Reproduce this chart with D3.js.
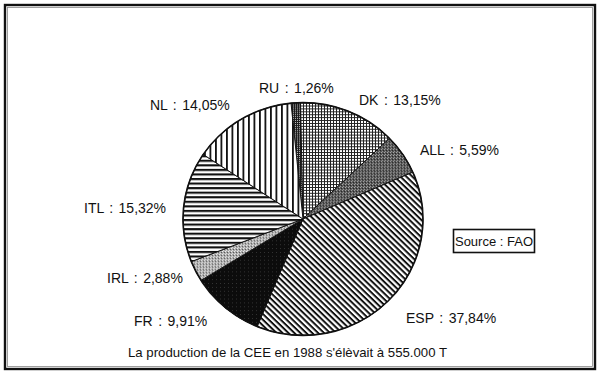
<!DOCTYPE html>
<html>
<head>
<meta charset="utf-8">
<script src="https://cdn.jsdelivr.net/npm/d3@7"></script>
<style>
  body { margin: 0; background: #fff; }
  svg text { font-family: "Liberation Sans", Arial, sans-serif; fill: #111; }
</style>
</head>
<body>
<script>
// production share per country, clockwise from the top
var countries = ["RU", "DK", "ALL", "ESP", "FR", "IRL", "ITL", "NL"];
var shares = [1.26, 13.15, 5.59, 37.84, 9.91, 2.88, 15.32, 14.05];
var caption = "La production de la CEE en 1988 s'élèvait à 555.000 T";
var source = "Source : FAO";

var width = 600, height = 376;
var cx = 303, cy = 219, radius = 120;

// fill pattern for each slice
var fills = {RU: "p-dense", DK: "p-grid", ALL: "p-dark", ESP: "p-diag",
             FR: "p-black", IRL: "p-light", ITL: "p-horiz", NL: "p-vert"};

// hand placed label anchors (start x, baseline)
var labelAt = {RU: [259, 93], DK: [359, 105], ALL: [420, 155], ESP: [406, 323],
               FR: [134, 326], IRL: [107, 283], ITL: [84, 213], NL: [150, 110]};

var fr = d3.formatLocale({decimal: ",", thousands: ".", grouping: [3], currency: ["", ""]});
var pct = fr.format(".2f");

var data = countries.map(function(c, i) { return {name: c, value: shares[i]}; });

var svg = d3.select("body").append("svg")
    .attr("width", width)
    .attr("height", height);

var defs = svg.append("defs");

function pattern(id, w, h, transform) {
  var p = defs.append("pattern")
      .attr("id", id)
      .attr("patternUnits", "userSpaceOnUse")
      .attr("width", w)
      .attr("height", h);
  if (transform) p.attr("patternTransform", transform);
  return p;
}

var p;
p = pattern("p-diag", 4.2, 4.2, "rotate(45)");
p.append("rect").attr("width", 4.2).attr("height", 4.2).attr("fill", "#fff");
p.append("rect").attr("width", 4.2).attr("height", 2).attr("fill", "#111");

p = pattern("p-horiz", 4.7, 4.7);
p.append("rect").attr("width", 4.7).attr("height", 4.7).attr("fill", "#fff");
p.append("rect").attr("width", 4.7).attr("height", 2.2).attr("fill", "#111");

p = pattern("p-vert", 5.5, 5.5);
p.append("rect").attr("width", 5.5).attr("height", 5.5).attr("fill", "#fff");
p.append("rect").attr("width", 1.8).attr("height", 5.5).attr("fill", "#111");

p = pattern("p-grid", 3, 3);
p.append("rect").attr("width", 3).attr("height", 3).attr("fill", "#fff");
p.append("rect").attr("width", 3).attr("height", 1).attr("fill", "#222");
p.append("rect").attr("width", 1).attr("height", 3).attr("fill", "#222");

p = pattern("p-dense", 2, 2);
p.append("rect").attr("width", 2).attr("height", 2).attr("fill", "#1a1a1a");
p.append("rect").attr("width", 1).attr("height", 1).attr("fill", "#bbb");

p = pattern("p-dark", 3, 3);
p.append("rect").attr("width", 3).attr("height", 3).attr("fill", "#555");
p.append("rect").attr("x", 0).attr("y", 0).attr("width", 1).attr("height", 1).attr("fill", "#aaa");
p.append("rect").attr("x", 2).attr("y", 1).attr("width", 1).attr("height", 1).attr("fill", "#222");
p.append("rect").attr("x", 1).attr("y", 2).attr("width", 1).attr("height", 1).attr("fill", "#999");

p = pattern("p-light", 3, 3);
p.append("rect").attr("width", 3).attr("height", 3).attr("fill", "#aaa");
p.append("rect").attr("x", 0).attr("y", 0).attr("width", 1).attr("height", 1).attr("fill", "#eee");
p.append("rect").attr("x", 2).attr("y", 1).attr("width", 1).attr("height", 1).attr("fill", "#555");
p.append("rect").attr("x", 1).attr("y", 2).attr("width", 1).attr("height", 1).attr("fill", "#ddd");

p = pattern("p-black", 4, 4);
p.append("rect").attr("width", 4).attr("height", 4).attr("fill", "#0c0c0c");
p.append("rect").attr("x", 1).attr("y", 2).attr("width", 1).attr("height", 1).attr("fill", "#333");

// double frame
svg.append("rect")
    .attr("x", 5).attr("y", 5)
    .attr("width", 590).attr("height", 364)
    .attr("fill", "none")
    .attr("stroke", "#111")
    .attr("stroke-width", 2.4);
svg.append("rect")
    .attr("x", 7.5).attr("y", 7.5)
    .attr("width", 585).attr("height", 359)
    .attr("fill", "none")
    .attr("stroke", "#888")
    .attr("stroke-width", 0.8);

var pie = d3.pie()
    .sort(null)
    .value(function(d) { return d.value; })
    .startAngle(-0.1)
    .endAngle(2 * Math.PI - 0.1);

var arc = d3.arc()
    .innerRadius(0)
    .outerRadius(radius);

var g = svg.append("g")
    .attr("transform", "translate(" + cx + "," + cy + ") scale(1,0.97)");

g.selectAll(".slice")
    .data(pie(data))
    .enter().append("path")
    .attr("class", "slice")
    .attr("d", arc)
    .attr("fill", function(d) { return "url(#" + fills[d.data.name] + ")"; })
    .attr("stroke", "#111")
    .attr("stroke-width", 1)
    .attr("stroke-linejoin", "round");

g.append("circle")
    .attr("r", radius)
    .attr("fill", "none")
    .attr("stroke", "#111")
    .attr("stroke-width", 1.6);

svg.selectAll(".label")
    .data(data)
    .enter().append("text")
    .attr("class", "label")
    .attr("x", function(d) { return labelAt[d.name][0]; })
    .attr("y", function(d) { return labelAt[d.name][1]; })
    .attr("font-size", 14)
    .attr("word-spacing", 1.6)
    .text(function(d) { return d.name + " : " + pct(d.value) + "%"; });

// source box
svg.append("rect")
    .attr("x", 453.5).attr("y", 229.5)
    .attr("width", 81).attr("height", 23)
    .attr("fill", "#fff")
    .attr("stroke", "#111")
    .attr("stroke-width", 1.6);
svg.append("text")
    .attr("x", 494).attr("y", 246)
    .attr("text-anchor", "middle")
    .attr("font-size", 13)
    .text(source);

svg.append("text")
    .attr("x", 128).attr("y", 357)
    .attr("font-size", 13.2)
    .text(caption);
</script>
</body>
</html>
